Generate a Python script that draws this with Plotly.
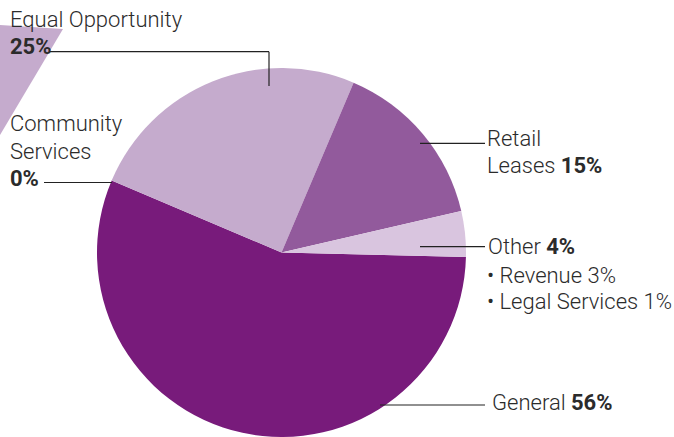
import plotly.graph_objects as go

W, H = 674, 437

labels = ["General", "Community Services", "Equal Opportunity", "Retail Leases", "Other"]
values = [56, 0, 25, 15, 4]
colors = ["#781b7b", "#781b7b", "#c5abcd", "#925a9c", "#d9c5df"]
other_breakdown = [("Revenue", 3), ("Legal Services", 1)]

FONT = "Roboto"
TXT = "#2b2b2b"
FS = 22


def px(x):
    return x / W


def py(y):
    return 1 - y / H


fig = go.Figure()
fig.add_trace(go.Pie(
    labels=labels, values=values, sort=False, direction="clockwise", rotation=91.4,
    marker=dict(colors=colors, line=dict(width=0)), textinfo="none", hoverinfo="label+percent",
    domain=dict(x=[px(96.5), px(466.5)], y=[0, py(68)]), showlegend=False,
))

shapes = []
# decorative triangle top-left
shapes.append(dict(type="path", xref="paper", yref="paper",
                   path=f"M {px(0)},{py(25)} L {px(63)},{py(29)} L {px(0)},{py(135)} Z",
                   fillcolor="#c5abcd", line=dict(width=0), layer="below"))


def line(x0, y0, x1, y1):
    shapes.append(dict(type="line", xref="paper", yref="paper", x0=px(x0), y0=py(y0), x1=px(x1), y1=py(y1),
                       line=dict(color="#222222", width=1.2)))


line(50, 51.7, 269, 51.7)
line(269, 51.7, 269, 86)
line(44, 182.5, 112, 182.5)
line(420, 143.3, 485, 143.3)
line(420, 246.7, 485, 246.7)
line(380, 405, 485, 405)

anns = []


def txt(x, y, s):
    anns.append(dict(x=px(x), y=py(y), xref="paper", yref="paper", text=s, showarrow=False,
                     xanchor="left", yanchor="middle", font=dict(family=FONT, size=FS, color=TXT, weight=300)))


pct = dict(zip(labels, values))
txt(8, 20, labels[2])
txt(8, 47, f"<b>{pct['Equal Opportunity']}%</b>")
txt(8, 124, "Community")
txt(8, 151, "Services")
txt(8, 178, f"<b>{pct['Community Services']}%</b>")
txt(485, 138, "Retail")
txt(485, 165, f"Leases <b>{pct['Retail Leases']}%</b>")
txt(486, 247, f"Other <b>{pct['Other']}%</b>")
txt(485, 275, f"• {other_breakdown[0][0]} {other_breakdown[0][1]}%")
txt(485, 301, f"• {other_breakdown[1][0]} {other_breakdown[1][1]}%")
txt(490, 402, f"General <b>{pct['General']}%</b>")

fig.update_layout(width=W, height=H, margin=dict(l=0, r=0, t=0, b=0), paper_bgcolor="white",
                  plot_bgcolor="white", shapes=shapes, annotations=anns)
fig.write_html("out.html", config={"displayModeBar": False},
               post_script="document.body.style.margin='0px';")
